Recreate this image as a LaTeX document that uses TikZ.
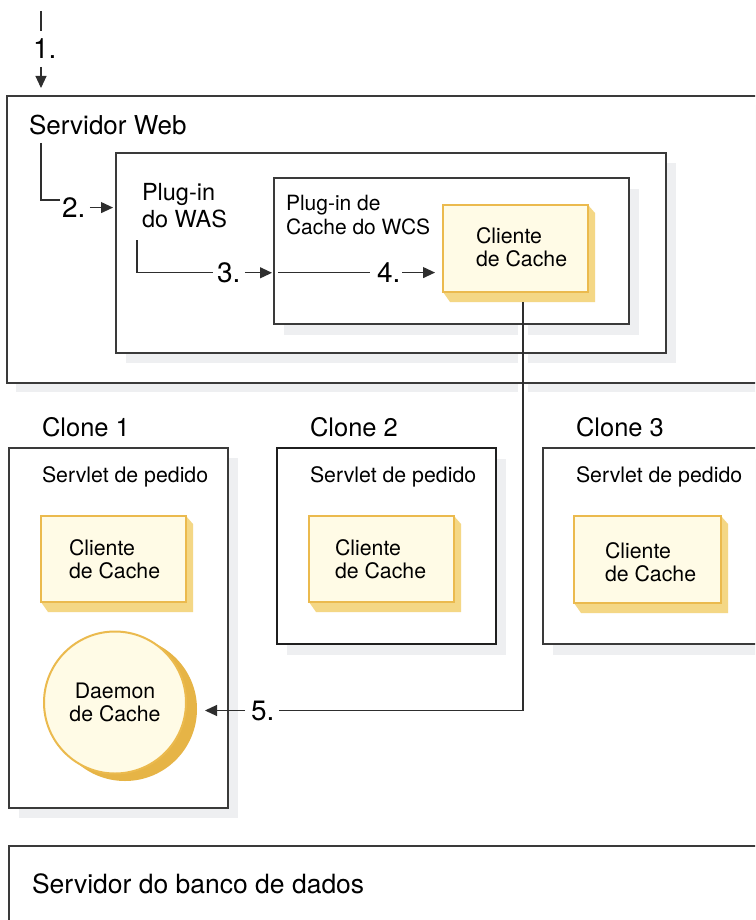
\documentclass[tikz,border=0pt]{standalone}
\usepackage{fontspec}
\setmainfont{TeX Gyre Heros}
\usetikzlibrary{arrows.meta,calc}

\definecolor{edgegray}{HTML}{3A3A3A}
\definecolor{inkgray}{HTML}{2E2E2E}
\definecolor{shadowgray}{HTML}{EEEFF1}
\definecolor{cream}{HTML}{FFFBE6}
\definecolor{goldline}{HTML}{EBBA4E}
\definecolor{goldside}{HTML}{F4D785}
\definecolor{golddark}{HTML}{E6B446}

\tikzset{
  panel/.style={fill=white, inner sep=0pt, outer sep=0pt, anchor=north west},
  rim/.style={draw=edgegray, line width=1.3pt},
  castshadow/.style={fill=shadowgray},
  flow/.style={draw=inkgray, line width=1.1pt},
  tip/.style={-{Triangle[length=12pt,width=11pt]}},
  lbl/.style={inner sep=0pt, outer sep=0pt, anchor=base west},
  blk/.style={inner sep=0pt, outer sep=0pt, anchor=north west, align=left},
  fbig/.style={font=\fontsize{26}{30}\selectfont},
  fclone/.style={font=\fontsize{25.5}{30}\selectfont},
  fnum/.style={font=\fontsize{28}{32}\selectfont},
  fmid/.style={font=\fontsize{23.5}{27}\selectfont},
  fsmall/.style={font=\fontsize{21.3}{23.5}\selectfont},
  cardbox/.style={fill=cream, draw=goldline, line width=2pt, inner sep=0pt, outer sep=0pt, anchor=north west},
}

% box with a soft cast shadow: name, x, y, width, height, shadow dx, shadow dy
\newcommand\panelbox[7]{%
  \fill[castshadow] (#2+#6,#3+#7) rectangle (#2+#4+#6,#3+#5+#7);
  \node[panel, minimum width=#4, minimum height=#5] (#1) at (#2,#3) {};
}
% raised yellow card: name, x, y, width, height
\newcommand\cachecard[5]{%
  \fill[goldside] (#2+#4,#3) -- (#2+#4+7,#3+8) -- (#2+#4+7,#3+#5+10)
     -- (#2+7,#3+#5+10) -- (#2,#3+#5) -- cycle;
  \node[cardbox, minimum width=#4, minimum height=#5] (#1) at (#2,#3) {};
}

\begin{document}
\begin{tikzpicture}[x=1pt,y=-1pt]
\useasboundingbox (0,0) rectangle (755,920);
\clip (0,0) rectangle (755,920);

% ---------- web server with the two plug-ins ----------
\panelbox{web}{7}{96}{765}{287}{9}{9}
\panelbox{was}{116}{153}{550}{200}{10}{10}
\panelbox{wcs}{274}{178}{355}{146}{10}{11}
\coordinate (c5) at (523,302);
\draw[white, line width=10pt] (c5) -- (523,400);
\foreach \b in {web,was,wcs} \draw[rim] (\b.north west) rectangle (\b.south east);

\cachecard{card0}{443}{205}{145}{87}
\node[blk, fsmall] (card0t) at (476,227.5) {Cliente\\de Cache};

\node[lbl, fbig] (sw) at (29,135) {Servidor Web};
\node[blk, fmid] (wasl) at (142,183) {Plug-in\\do WAS};
\node[blk, font=\fontsize{21}{24}\selectfont] (wcsl) at (286,195.5) {Plug-in de\\Cache do WCS};

% ---------- clones ----------
\panelbox{clone1}{9}{448}{219}{360}{10}{10}
\draw[rim] (clone1.north west) rectangle (clone1.south east);
\panelbox{clone2}{277}{448}{219}{196}{10}{11}
\draw[rim, draw=black!88, line width=2.2pt] (clone2.north west) rectangle (clone2.south east);
\panelbox{clone3}{543}{448}{230}{196}{10}{11}
\draw[rim] (clone3.north west) rectangle (clone3.south east);

\node[lbl, fclone] (cl1) at (42,436) {Clone 1};
\node[lbl, fclone] (cl2) at (310,436) {Clone 2};
\node[lbl, fclone] (cl3) at (576,436) {Clone 3};
\node[lbl, fsmall] (sv1) at (42,482) {Servlet de pedido};
\node[lbl, fsmall] (sv2) at (310,482) {Servlet de pedido};
\node[lbl, fsmall] (sv3) at (576,482) {Servlet de pedido};

\cachecard{card1}{41}{516}{145}{86}
\node[blk, fsmall] (card1t) at (69,539.5) {Cliente\\de Cache};
\cachecard{card2}{309}{516}{145}{86}
\node[blk, fsmall] (card2t) at (335,539.5) {Cliente\\de Cache};
\cachecard{card3}{574}{516}{147}{87}
\node[blk, fsmall] (card3t) at (605,542.5) {Cliente\\de Cache};

\fill[golddark] (125,709) circle[radius=72];
\node[circle, fill=cream, draw=goldline, line width=2pt, minimum size=142,
      inner sep=0pt, outer sep=0pt, align=center, fsmall] (daemon) at (115,702.5) {Daemon\\de Cache};

% ---------- database server ----------
\node[panel, minimum width=765, minimum height=90] (db) at (9,846) {};
\draw[rim] (db.north west) rectangle (db.south east);
\node[lbl, font=\fontsize{26.5}{30}\selectfont] (dbl) at (32,893) {Servidor do banco de dados};

% ---------- numbered request flow ----------
\coordinate (top1) at (41,11);
\node[lbl, fnum] (l1) at (33,59) {1.};
\draw[flow, shorten >=8pt] (top1) -- (top1 |- l1.north);
\draw[flow, tip, shorten <=8pt, shorten >=8pt] (top1 |- l1.south) -- (top1 |- web.north);

\coordinate (c2) at (41,143);
\coordinate (k2) at (60,200);
\node[lbl, fnum] (l2) at (62,217.5) {2.};
\draw[flow] (c2) |- (k2);
\draw[flow, tip, shorten <=4.5pt, shorten >=3pt] (l2.east) -- (l2.east -| was.west);

\coordinate (c3) at (137,240);
\node[lbl, fnum] (l3) at (217,282.5) {3.};
\draw[flow] (c3) |- ($(l3.west)+(-4,0)$);
\draw[flow, tip, shorten <=4.5pt, shorten >=2pt] (l3.east) -- (l3.east -| wcs.west);

\node[lbl, fnum] (l4) at (377,282.5) {4.};
\draw[flow] ($(wcs.west |- l4.west)+(4,0)$) -- ($(l4.west)+(-7,0)$);
\draw[flow, tip, shorten <=2pt, shorten >=8pt] (l4.east) -- (l4.east -| card0.west);

\node[lbl, fnum] (l5) at (251,720) {5.};
\draw[flow] (c5) |- ($(l5.east)+(4.5,0)$);
\draw[flow, tip, shorten <=6pt, shorten >=19pt] (l5.west) -- (l5.west -| daemon.east);
\end{tikzpicture}
\end{document}
